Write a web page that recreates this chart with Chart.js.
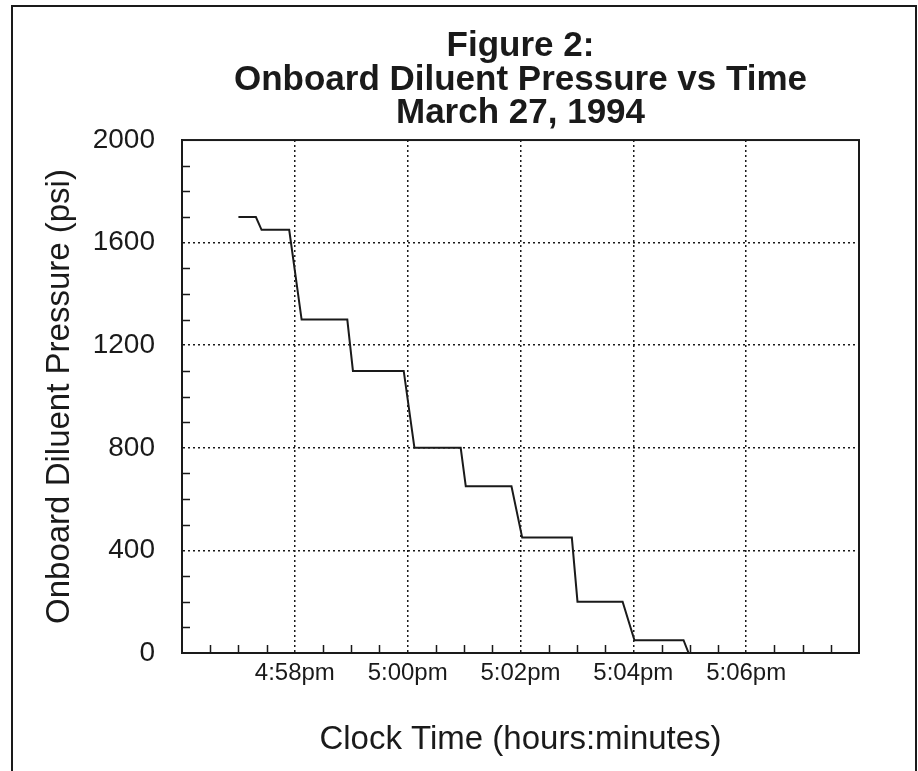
<!DOCTYPE html>
<html>
<head>
<meta charset="utf-8">
<script src="https://cdn.jsdelivr.net/npm/chart.js@4.4.1/dist/chart.umd.min.js"></script>
<style>
  body { margin: 0; background: #fff; }
  #wrap { position: relative; width: 918px; height: 771px; overflow: hidden; }
  #frame { position: absolute; left: 11px; top: 5px; width: 902px; height: 800px; border: 2px solid #1a1a1a; }
  canvas { position: absolute; left: 0; top: 0; }
</style>
</head>
<body>
<div id="wrap">
  <div id="frame"></div>
  <canvas id="pressure_chart" width="918" height="771"></canvas>
</div>
<script>
// clock time as minutes after 4:00pm
const clockMinutes = [57.0, 57.31, 57.41, 57.90, 58.12, 58.93, 59.03, 59.93, 60.12, 60.94,
    61.03, 61.84, 62.03, 62.91, 63.01, 63.81, 64.02, 64.89, 64.98];
const diluentPsi = [1700, 1700, 1650, 1650, 1300, 1300, 1100, 1100, 800, 800,
    650, 650, 450, 450, 200, 200, 50, 50, 0];

const timeRange = [56, 68];
const timeLabels = [58, 60, 62, 64, 66];
const psiRange = [0, 2000];
const psiLabels = [0, 400, 800, 1200, 1600, 2000];
const titleLines = ['Figure 2:', 'Onboard Diluent Pressure vs Time', 'March 27, 1994'];

const FONT = "'Liberation Sans', Arial, Helvetica, sans-serif";
const INK = '#1a1a1a';

function clockLabel(m) {
    const h = 4 + Math.floor(m / 60);
    const mm = m % 60;
    return h + ':' + String(mm).padStart(2, '0') + 'pm';
}

// small tick marks pointing into the plot, plus the box round it
const innerTicks = {
    id: 'innerTicks',
    afterDraw(chart) {
        const {ctx, chartArea: a, scales: {x, y}} = chart;
        ctx.save();
        ctx.strokeStyle = INK;
        ctx.lineWidth = 1.5;
        ctx.beginPath();
        x.ticks.forEach(t => {
            if (t.value <= timeRange[0] || t.value >= timeRange[1] || timeLabels.includes(t.value)) return;
            const px = Math.round(x.getPixelForValue(t.value)) + 0.5;
            ctx.moveTo(px, a.bottom);
            ctx.lineTo(px, a.bottom - 8);
        });
        y.ticks.forEach(t => {
            if (psiLabels.includes(t.value)) return;
            const py = Math.round(y.getPixelForValue(t.value)) + 0.5;
            ctx.moveTo(a.left, py);
            ctx.lineTo(a.left + 8, py);
        });
        ctx.stroke();
        ctx.lineWidth = 2;
        ctx.strokeRect(a.left, a.top, a.right - a.left, a.bottom - a.top);
        ctx.restore();
    }
};

const ctx = document.getElementById('pressure_chart').getContext('2d');
const pressureChart = new Chart(ctx, {
    type: 'line',
    data: {
        datasets: [{
            data: clockMinutes.map((m, i) => ({x: m, y: diluentPsi[i]})),
            borderColor: INK,
            borderWidth: 2,
            pointRadius: 0,
            tension: 0,
            fill: false
        }]
    },
    options: {
        responsive: false,
        animation: false,
        devicePixelRatio: 1,
        layout: {
            padding: {left: 0, right: 59, top: 0, bottom: 0}
        },
        plugins: {
            legend: {display: false},
            tooltip: {enabled: false},
            title: {
                display: true,
                text: titleLines,
                fullSize: false,
                color: INK,
                font: {family: FONT, size: 35, weight: 'bold', lineHeight: 0.95},
                padding: {top: 30, bottom: 10.3}
            }
        },
        scales: {
            x: {
                type: 'linear',
                min: timeRange[0],
                max: timeRange[1],
                afterFit: s => { s.height = 118; },
                border: {display: true, color: INK, width: 2, dash: [2, 3]},
                grid: {
                    drawTicks: false,
                    lineWidth: 1.5,
                    color: c => (c.tick && timeLabels.includes(c.tick.value)) ? INK : 'rgba(0,0,0,0)'
                },
                ticks: {
                    stepSize: 0.5,
                    autoSkip: false,
                    maxRotation: 0,
                    padding: 8,
                    color: INK,
                    font: {family: FONT, size: 24, lineHeight: 1},
                    callback: v => timeLabels.includes(v) ? clockLabel(v) : ''
                },
                title: {
                    display: true,
                    text: 'Clock Time (hours:minutes)',
                    color: INK,
                    font: {family: FONT, size: 33, lineHeight: 1},
                    padding: {top: 0, bottom: 15}
                }
            },
            y: {
                min: psiRange[0],
                max: psiRange[1],
                afterFit: s => { s.width = 182; },
                border: {display: true, color: INK, width: 2, dash: [2, 3]},
                grid: {
                    drawTicks: false,
                    lineWidth: 1.5,
                    color: c => (c.tick && psiLabels.includes(c.tick.value) &&
                        c.tick.value > psiRange[0] && c.tick.value < psiRange[1]) ? INK : 'rgba(0,0,0,0)'
                },
                ticks: {
                    stepSize: 100,
                    autoSkip: false,
                    padding: 27,
                    color: INK,
                    font: {family: FONT, size: 28, lineHeight: 1},
                    callback: v => psiLabels.includes(v) ? v : ''
                },
                title: {
                    display: true,
                    text: 'Onboard Diluent Pressure (psi)',
                    color: INK,
                    font: {family: FONT, size: 33, lineHeight: 1},
                    padding: {top: 43, bottom: 0}
                }
            }
        }
    },
    plugins: [innerTicks]
});
</script>
</body>
</html>
